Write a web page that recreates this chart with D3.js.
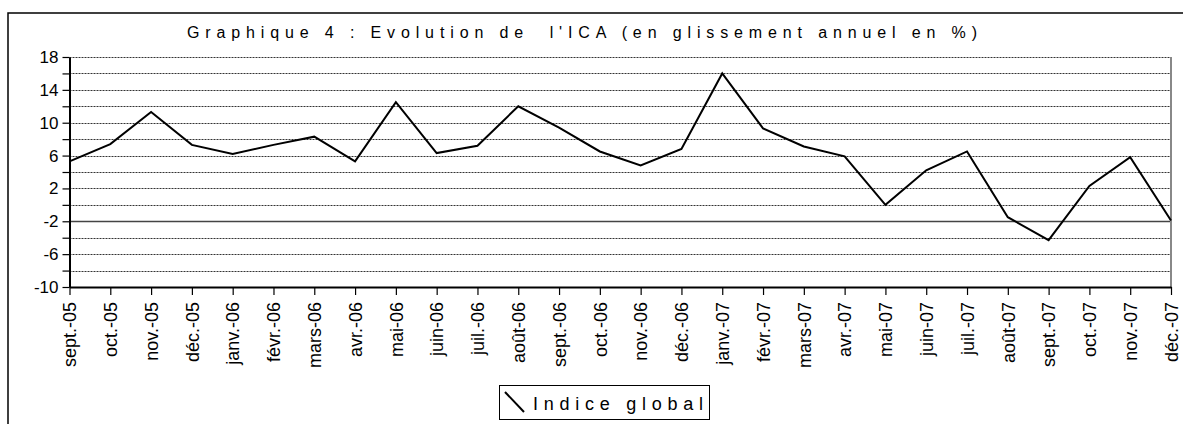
<!DOCTYPE html>
<html><head><meta charset="utf-8">
<script src="https://cdn.jsdelivr.net/npm/d3@7"></script>
<style>
html,body{margin:0;padding:0;background:#fff;}
svg{display:block;}
svg text{font-family:"Liberation Sans",Arial,sans-serif;}
</style></head>
<body>
<svg id="chart" width="1183" height="424"></svg>
<script>
const titleText = "Graphique 4 : Evolution de  l'ICA (en glissement annuel en %)";
const seriesName = "Indice global";
const months = ["sept.-05","oct.-05","nov.-05","déc.-05","janv.-06","févr.-06","mars-06","avr.-06","mai-06","juin-06","juil.-06","août-06","sept.-06","oct.-06","nov.-06","déc.-06","janv.-07","févr.-07","mars-07","avr.-07","mai-07","juin-07","juil.-07","août-07","sept.-07","oct.-07","nov.-07","déc.-07"];
const values = [5.3,7.4,11.3,7.3,6.2,7.3,8.3,5.3,12.5,6.3,7.2,12.0,9.4,6.5,4.8,6.8,16.0,9.3,7.1,5.9,0.0,4.2,6.5,-1.5,-4.3,2.3,5.8,-1.9];
const yTicks = [-10,-8,-6,-4,-2,0,2,4,6,8,10,12,14,16,18];
const yLabels = [-10,-6,-2,2,6,10,14,18];

const svg = d3.select("#chart");
const L = 69.5, R = 1171, T = 57, B = 287;
const FONT = "'Liberation Sans', Arial, sans-serif";

svg.append("rect").attr("x",8).attr("y",13).attr("width",1200).attr("height",440)
  .attr("fill","#fff").attr("stroke","#000").attr("stroke-width",1.5);

const x = d3.scalePoint().domain(months).range([L, R]);
const y = d3.scaleLinear().domain([-10, 18]).range([B, T]);

// gridlines
svg.append("g").selectAll("line").data(yTicks.filter(v => v > -10)).join("line")
  .attr("x1", L).attr("x2", R)
  .attr("y1", d => Math.round(y(d)) + 0.5).attr("y2", d => Math.round(y(d)) + 0.5)
  .attr("stroke", d => d === -2 ? "#444" : "#333")
  .attr("stroke-width", d => d === -2 ? 1.5 : 1)
  .attr("stroke-dasharray", d => d === -2 ? null : "2,1");

// right border
svg.append("line").attr("x1", R).attr("x2", R).attr("y1", T).attr("y2", B)
  .attr("stroke", "#888").attr("stroke-width", 2);

// y axis
const yAxis = d3.axisLeft(y).tickValues(yTicks).tickSize(7).tickSizeOuter(0).tickPadding(4)
  .tickFormat(d => yLabels.includes(d) ? d : "");
const gy = svg.append("g").attr("transform", `translate(${L},0)`).call(yAxis);
gy.attr("font-family", FONT).attr("font-size", 17);
gy.select(".domain").attr("stroke","#000").attr("stroke-width",2);
gy.selectAll(".tick line").attr("stroke","#000").attr("stroke-width",1.2);
gy.selectAll("text").attr("fill","#000");

// x axis
const xAxis = d3.axisBottom(x).tickSize(8).tickSizeOuter(0);
const gx = svg.append("g").attr("transform", `translate(0,${B})`).call(xAxis);
gx.attr("font-family", FONT).attr("font-size", 18);
gx.select(".domain").attr("stroke","#000").attr("stroke-width",2);
gx.selectAll(".tick line").attr("stroke","#000").attr("stroke-width",1.2);
gx.selectAll("text")
  .attr("fill","#000")
  .attr("text-anchor","end").attr("transform","rotate(-90)")
  .attr("x",-15).attr("y",0).attr("dy","0.35em");

// line
const line = d3.line().x((d,i) => x(months[i])).y(d => y(d));
svg.append("path").datum(values).attr("d", line)
  .attr("fill","none").attr("stroke","#000").attr("stroke-width",2).attr("stroke-linejoin","miter");

// title
svg.append("text").attr("x",187).attr("y",38).attr("font-size","16px")
  .attr("font-family", FONT)
  .attr("textLength",790).attr("lengthAdjust","spacing")
  .attr("xml:space","preserve").style("white-space","pre")
  .text(titleText);

// legend
svg.append("rect").attr("x",499.5).attr("y",385.5).attr("width",210).attr("height",34)
  .attr("fill","#fff").attr("stroke","#000").attr("stroke-width",1);
svg.append("line").attr("x1",505).attr("y1",392).attr("x2",524).attr("y2",412)
  .attr("stroke","#000").attr("stroke-width",2);
svg.append("text").attr("x",533).attr("y",410).attr("font-size","18px")
  .attr("font-family", FONT)
  .attr("textLength",170).attr("lengthAdjust","spacing").text(seriesName);
</script>
</body></html>
